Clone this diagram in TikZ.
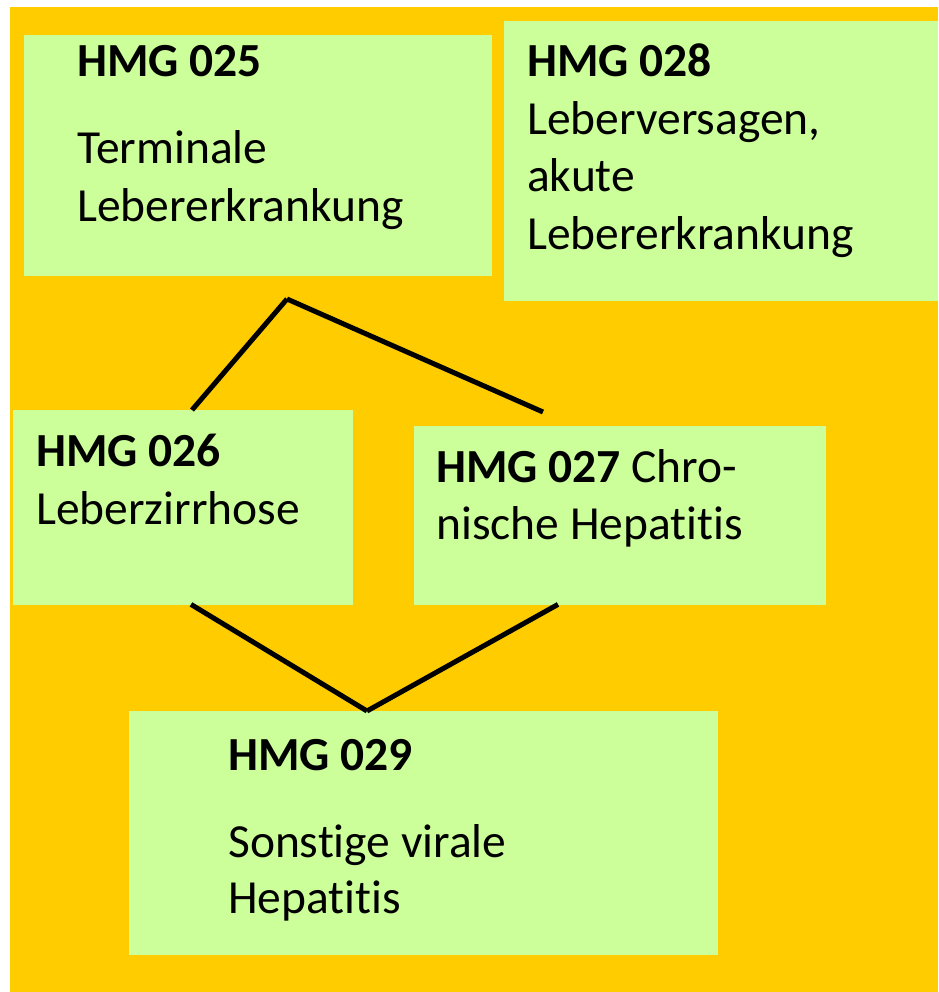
\documentclass[tikz,border=0pt]{standalone}
\usepackage{fontspec}
\setmainfont{Carlito}[Ligatures=NoCommon]
\usetikzlibrary{calc}
\definecolor{bgorange}{HTML}{FFCC00}
\definecolor{boxgreen}{HTML}{CCFF99}
\begin{document}
\begin{tikzpicture}[x=1pt,y=-1pt,
  box/.style={fill=boxgreen, draw=none, inner sep=0pt, anchor=north west},
  txt/.style={anchor=base west, inner sep=0pt, font=\fontsize{47.5}{57}\selectfont},
  hd/.style={anchor=base west, inner sep=0pt, font=\fontsize{47.5}{57}\selectfont\bfseries},
  link/.style={line width=5pt, black}]
\useasboundingbox (0,0) rectangle (938,992);
\fill[bgorange] (10,7) rectangle (938,992);
% boxes
\node[box, minimum width=468pt, minimum height=241pt] (b25) at (24,35) {};
\node[box, minimum width=434pt, minimum height=280pt] (b28) at (504,21) {};
\node[box, minimum width=340pt, minimum height=195pt] (b26) at (13,410) {};
\node[box, minimum width=412pt, minimum height=179pt] (b27) at (414,426) {};
\node[box, minimum width=589pt, minimum height=244pt] (b29) at (129,711) {};
% texts
\node[hd]  (t25a) at (77,77)  {HMG 025};
\node[txt] (t25b) at (77,164) {Terminale};
\node[txt] (t25c) at (77,222) {Lebererkrankung};
\node[hd]  (t28a) at (527,77)  {HMG 028};
\node[txt] (t28b) at (527,135) {Leberversagen,};
\node[txt] (t28c) at (527,192) {akute};
\node[txt] (t28d) at (527,249) {Lebererkrankung};
\node[hd]  (t26a) at (36,466) {HMG 026};
\node[txt] (t26b) at (36,524) {Leberzirrhose};
\node[txt] (t27a) at (436,482) {\textbf{HMG 027} Chro-};
\node[txt] (t27b) at (436,539) {nische Hepatitis};
\node[hd]  (t29a) at (228,770) {HMG 029};
\node[txt] (t29b) at (228,857) {Sonstige virale};
\node[txt] (t29c) at (228,913) {Hepatitis};
% connectors
\coordinate (top) at (287,299);
\coordinate (bot) at ($(b29.north west)+(238,0)$);
\draw[link] ($(b26.north west)+(179,0)$) -- (top);
\draw[link] (top) -- ($(b27.north west)+(129,-14)$);
\draw[link] ($(b26.south west)+(178,-1)$) -- (bot);
\draw[link] (bot) -- ($(b27.south west)+(144,-1)$);
\end{tikzpicture}
\end{document}
